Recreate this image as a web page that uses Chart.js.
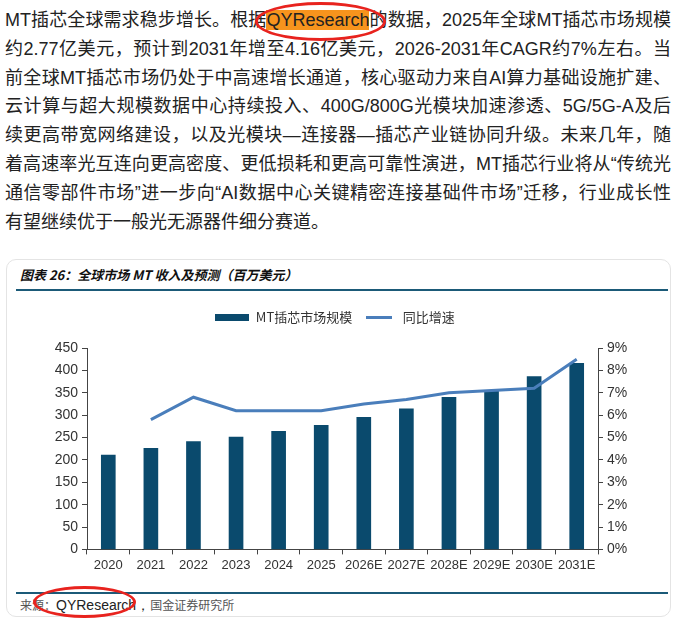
<!DOCTYPE html>
<html>
<head>
<meta charset="utf-8">
<script src="https://cdn.jsdelivr.net/npm/chart.js@4/dist/chart.umd.min.js"></script>
<style>
  body { margin: 0; background: #fff; width: 681px; height: 623px; position: relative; overflow: hidden; }
  .para { position: absolute; left: 5px; top: 6px; width: 666px; font-family: "Liberation Sans", "Noto Sans CJK SC", sans-serif; font-size: 18px; color: #222; }
  .para div { height: 28.8px; line-height: 28.8px; white-space: nowrap; text-align: justify; text-align-last: justify; }
  .para div.last { text-align-last: left; }
  .hl { background: #f7941d; }
  .ring { position: absolute; border: 3px solid #e8231e; border-radius: 50%; box-sizing: border-box; }
  .box { position: absolute; left: 6px; top: 259px; width: 665px; height: 358px; border: 1px solid #e4e4e4; border-radius: 10px; box-sizing: border-box; }
  .title { position: absolute; left: 20px; top: 265px; font-family: "Noto Sans CJK SC", sans-serif; font-weight: bold; font-style: italic; font-size: 13px; color: #111; white-space: nowrap; }
  .rule { position: absolute; left: 16px; width: 652px; background: #1b5a78; }
  .src { position: absolute; left: 20px; top: 596px; font-size: 12px; color: #555; font-family: "Noto Sans CJK SC", serif; white-space: nowrap; }
  .src b { font-weight: normal; font-family: "Liberation Sans", sans-serif; font-size: 14px; color: #222; }
  #wrap { position: absolute; left: 10px; top: 301px; width: 650px; height: 277px; }
</style>
</head>
<body>
<div class="para">
  <div>MT插芯全球需求稳步增长。根据<span class="hl">QYResearch</span>的数据，2025年全球MT插芯市场规模</div>
  <div>约2.77亿美元，预计到2031年增至4.16亿美元，2026-2031年CAGR约7%左右。当</div>
  <div>前全球MT插芯市场仍处于中高速增长通道，核心驱动力来自AI算力基础设施扩建、</div>
  <div>云计算与超大规模数据中心持续投入、400G/800G光模块加速渗透、5G/5G-A及后</div>
  <div>续更高带宽网络建设，以及光模块—连接器—插芯产业链协同升级。未来几年，随</div>
  <div>着高速率光互连向更高密度、更低损耗和更高可靠性演进，MT插芯行业将从“传统光</div>
  <div>通信零部件市场”进一步向“AI数据中心关键精密连接基础件市场”迁移，行业成长性</div>
  <div class="last">有望继续优于一般光无源器件细分赛道。</div>
</div>
<div class="ring" style="left:255px; top:2px; width:131px; height:39px;"></div>

<div class="box"></div>
<div class="title">图表 26：全球市场 MT 收入及预测（百万美元）</div>
<div class="rule" style="top:289px; height:2px;"></div>
<div id="wrap"><canvas id="chart"></canvas></div>
<div class="rule" style="top:592px; height:1.5px;"></div>
<div class="src">来源：<b>QYResearch，</b>国金证券研究所</div>
<div class="ring" style="left:33px; top:586px; width:103px; height:32px;"></div>

<script>
// 数据
const years = ["2020", "2021", "2022", "2023", "2024", "2025", "2026E", "2027E", "2028E", "2029E", "2030E", "2031E"];
const marketSize = [211, 226, 241, 251, 264, 277, 295, 314, 340, 353, 386, 416];
const growth = [null, 5.8, 6.8, 6.2, 6.2, 6.2, 6.5, 6.7, 7.0, 7.1, 7.2, 8.5];
const leftTicks = { min: 0, max: 450, step: 50 };
const rightTicks = { min: 0, max: 9, step: 1 };

const barColor = "#0a4a6d";
const lineColor = "#4a7ebb";
const axisColor = "#444";

// legend icons
function icon(w, h, color) {
  const c = document.createElement("canvas");
  c.width = w; c.height = h;
  const g = c.getContext("2d");
  g.fillStyle = color;
  g.fillRect(0, 0, w, h);
  return c;
}

// extra space under legend
const legendGap = {
  id: "legendGap",
  beforeInit(chart) {
    const fit = chart.legend.fit;
    chart.legend.fit = function () {
      fit.bind(chart.legend)();
      this.height += 14;
    };
  }
};

new Chart(document.getElementById("chart"), {
  type: "bar",
  data: {
    labels: years,
    datasets: [
      {
        label: "MT插芯市场规模",
        data: marketSize,
        backgroundColor: barColor,
        barThickness: 14,
        pointStyle: icon(34, 7, barColor),
        yAxisID: "y",
        order: 1
      },
      {
        type: "line",
        label: "同比增速",
        data: growth,
        borderColor: lineColor,
        backgroundColor: lineColor,
        borderWidth: 3,
        pointRadius: 0,
        tension: 0,
        pointStyle: icon(26, 3, lineColor),
        yAxisID: "y1",
        order: 0
      }
    ]
  },
  options: {
    responsive: true,
    maintainAspectRatio: false,
    animation: false,
    layout: { padding: { top: 0, bottom: 2, left: 0, right: 0 } },
    plugins: {
      tooltip: { enabled: false },
      legend: {
        position: "top",
        labels: {
          usePointStyle: true,
          pointStyleWidth: 34,
          padding: 10,
          color: "#333",
          font: { family: "Noto Sans CJK SC", size: 13 },
          sort: (a, b) => a.datasetIndex - b.datasetIndex
        }
      }
    },
    scales: {
      x: {
        offset: true,
        grid: { drawOnChartArea: false, tickLength: 5, color: axisColor, offset: true },
        border: { color: axisColor },
        ticks: { color: "#333", font: { family: "Liberation Sans", size: 13 }, padding: 3, maxRotation: 0, autoSkip: false }
      },
      y: {
        position: "left",
        min: leftTicks.min,
        max: leftTicks.max,
        grid: { drawOnChartArea: false, tickLength: 5, color: axisColor },
        border: { color: axisColor },
        ticks: { stepSize: leftTicks.step, color: "#333", font: { family: "Liberation Sans", size: 14 }, padding: 4 },
        afterFit(s) { s.width = 77; }
      },
      y1: {
        position: "right",
        min: rightTicks.min,
        max: rightTicks.max,
        grid: { drawOnChartArea: false, tickLength: 5, color: axisColor },
        border: { color: axisColor },
        ticks: { stepSize: rightTicks.step, color: "#333", font: { family: "Liberation Sans", size: 14 }, padding: 4, callback: v => v + "%" },
        afterFit(s) { s.width = 62; }
      }
    }
  },
  plugins: [legendGap]
});
</script>
</body>
</html>
